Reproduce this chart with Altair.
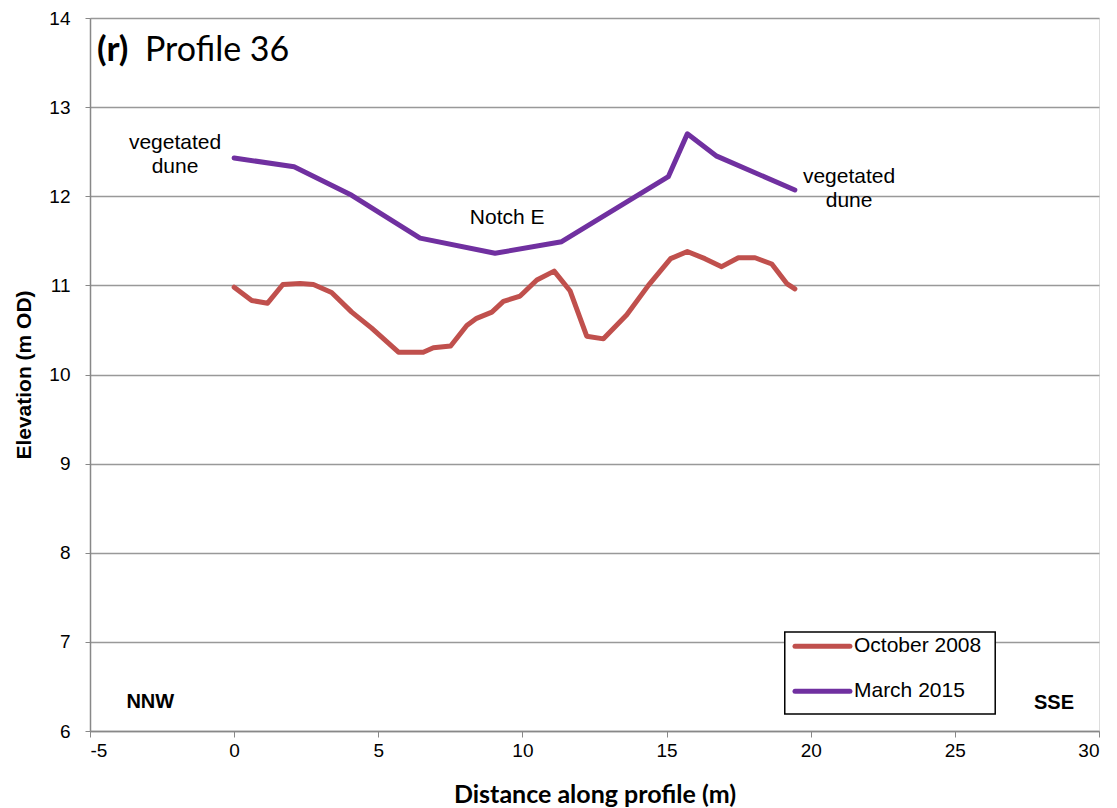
import altair as alt
import pandas as pd

oct_x = [0, 0.61, 1.16, 1.69, 2.29, 2.75, 3.38, 4.08, 4.77, 5.70, 6.56, 6.91, 7.51, 8.07, 8.41, 8.94, 9.34, 9.92,
         10.50, 11.10, 11.65, 12.23, 12.81, 13.62, 14.37, 15.14, 15.72, 16.33, 16.91, 17.49, 18.07, 18.65, 19.17, 19.45]
oct_y = [10.98, 10.83, 10.80, 11.01, 11.02, 11.01, 10.92, 10.70, 10.52, 10.25, 10.25, 10.30, 10.32, 10.55, 10.63, 10.70, 10.82, 10.88,
         11.06, 11.16, 10.94, 10.43, 10.40, 10.67, 11.00, 11.30, 11.38, 11.30, 11.21, 11.31, 11.31, 11.24, 11.02, 10.96]
mar_x = [0, 2.08, 4.08, 6.45, 9.05, 11.36, 15.06, 15.72, 16.74, 19.45]
mar_y = [12.43, 12.33, 12.01, 11.53, 11.36, 11.49, 12.22, 12.70, 12.45, 12.07]

series = ["October 2008", "March 2015"]
colors = ["#C0504D", "#7030A0"]

df = pd.concat([
    pd.DataFrame({"x": oct_x, "y": oct_y, "series": series[0], "o": range(len(oct_x))}),
    pd.DataFrame({"x": mar_x, "y": mar_y, "series": series[1], "o": range(len(mar_x))}),
])

ann_text = ["vegetated\ndune", "Notch E", "vegetated\ndune"]
ann_x = [-2.05, 9.47, 21.33]
ann_y = [12.6, 11.76, 12.22]
ann = pd.DataFrame({"x": ann_x, "y": ann_y, "t": ann_text})

dir_text = ["NNW", "SSE"]
dir_x = [-2.91, 28.44]
dir_y = [6.33, 6.31]
dirs = pd.DataFrame({"x": dir_x, "y": dir_y, "t": dir_text})

# legend layout (inside plot, in data units)
leg_row_y = [6.95, 6.445]
leg_sym_x0, leg_sym_x1, leg_txt_x = 19.455, 21.36, 21.50
leg_box = {"x": [19.10], "x2": [26.40], "y": [7.11], "y2": [6.19]}
leg = pd.DataFrame({"series": series, "y": leg_row_y, "x0": leg_sym_x0, "x1": leg_sym_x1, "tx": leg_txt_x})

xs = alt.Scale(domain=[-5, 30], nice=False, zero=False)
ys = alt.Scale(domain=[6, 14], nice=False, zero=False)
cs = alt.Scale(domain=series, range=colors)

lines = alt.Chart(df).mark_line(strokeWidth=5, strokeCap="round", strokeJoin="round").encode(
    x=alt.X("x:Q", scale=xs, axis=alt.Axis(
        values=list(range(-5, 31, 5)), labelExpr="datum.value + ''", title="Distance along profile (m)",
        titleFont="Lato", titleFontSize=25, titleFontWeight="bold", titleColor="#000",
        titleBaseline="middle", titleY=63,
        labelFont="Liberation Sans", labelFontSize=19, labelColor="#000",
        labelPadding=4, tickSize=6, tickColor="#888", domainColor="#888", domainWidth=1.5,
        grid=False)),
    y=alt.Y("y:Q", scale=ys, axis=alt.Axis(
        values=list(range(6, 15)), labelExpr="datum.value + ''", title="Elevation (m OD)",
        titleFont="Liberation Sans", titleFontSize=21, titleFontWeight="bold", titleColor="#000",
        titleBaseline="middle", titleX=-66,
        labelFont="Liberation Sans", labelFontSize=19, labelColor="#000",
        labelPadding=15, tickSize=5, tickColor="#888", domainColor="#888", domainWidth=1.5,
        grid=True, gridColor="#999", gridWidth=1.5)),
    color=alt.Color("series:N", scale=cs, legend=None),
    order="o:Q",
)

box = alt.Chart(pd.DataFrame(leg_box)).mark_rect(fill="#fff", stroke="#000", strokeWidth=1.5).encode(
    x=alt.X("x:Q", scale=xs), x2="x2:Q", y=alt.Y("y:Q", scale=ys), y2="y2:Q")
leg_lines = alt.Chart(leg).mark_rule(strokeWidth=5, strokeCap="round").encode(
    x=alt.X("x0:Q", scale=xs), x2="x1:Q", y=alt.Y("y:Q", scale=ys),
    color=alt.Color("series:N", scale=cs, legend=None))
leg_text = alt.Chart(leg).mark_text(font="Liberation Sans", fontSize=21, color="#000",
                                    align="left", baseline="middle").encode(
    x=alt.X("tx:Q", scale=xs), y=alt.Y("y:Q", scale=ys), text="series:N")

ann_marks = alt.Chart(ann).mark_text(font="Liberation Sans", fontSize=21, color="#000",
                                     align="center", lineBreak="\n", lineHeight=24).encode(
    x=alt.X("x:Q", scale=xs), y=alt.Y("y:Q", scale=ys), text="t:N")

dir_marks = alt.Chart(dirs).mark_text(font="Liberation Sans", fontSize=20, fontWeight="bold",
                                      color="#000", align="center").encode(
    x=alt.X("x:Q", scale=xs), y=alt.Y("y:Q", scale=ys), text="t:N")

t1 = alt.Chart(pd.DataFrame({"t": ["(r)"]})).mark_text(font="Lato", fontSize=35, fontWeight="bold", color="#000",
                                                      align="left", baseline="alphabetic").encode(
    x=alt.value(7), y=alt.value(43), text="t:N")
t2 = alt.Chart(pd.DataFrame({"t": ["Profile 36"]})).mark_text(font="Lato", fontSize=34, color="#000",
                                                             align="left", baseline="alphabetic").encode(
    x=alt.value(55), y=alt.value(43), text="t:N")

chart = alt.layer(lines, box, leg_lines, leg_text, ann_marks, dir_marks, t1, t2).properties(
    width=1009, height=713,
    autosize=alt.AutoSizeParams(type="none"),
    padding={"left": 82, "top": 10, "right": 2, "bottom": 77},
).configure_view(stroke="#000", strokeWidth=1.5).configure(background="#fff")

chart.save("out.html", embed_options={"renderer": "svg", "actions": False})
